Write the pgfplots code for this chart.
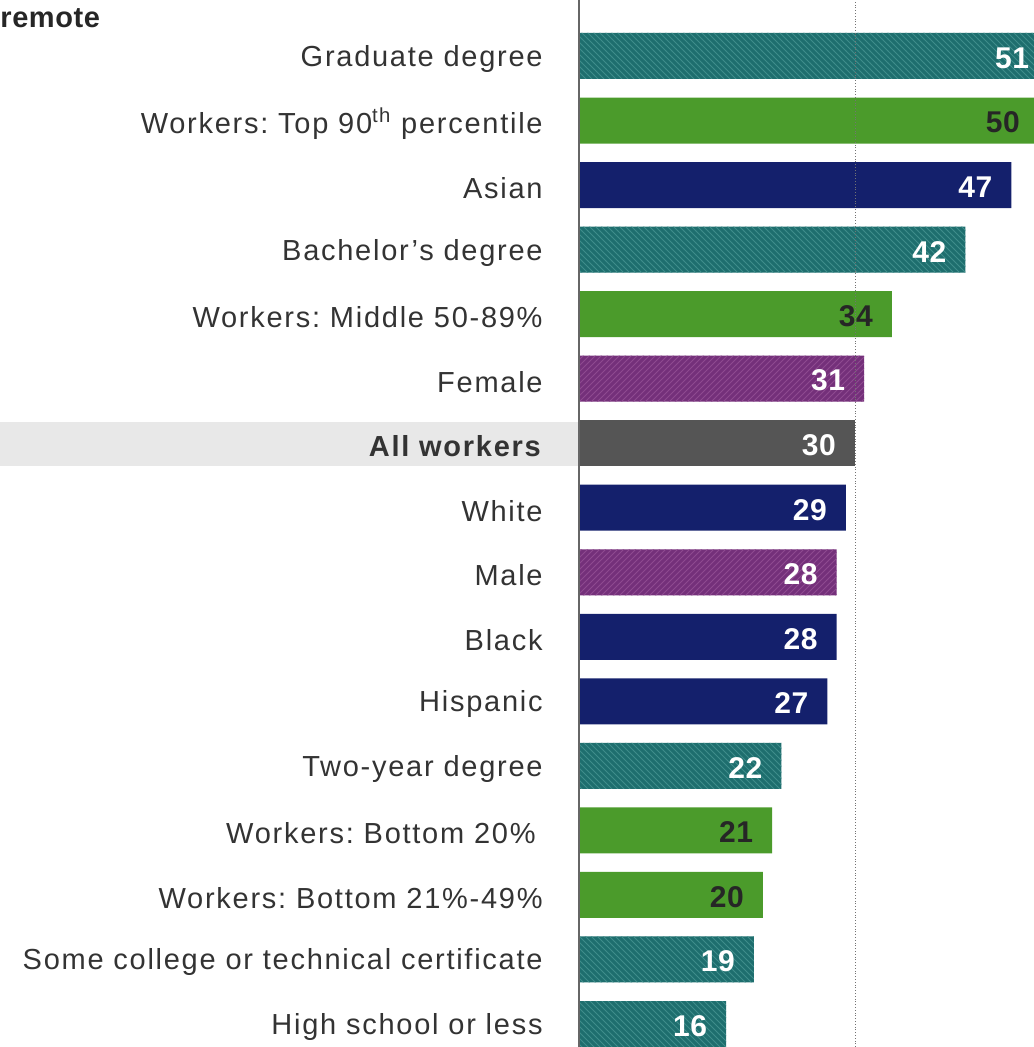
\documentclass[border=0pt]{standalone}
\usepackage{pgfplots}
\pgfplotsset{compat=1.18}
\usepackage{fontspec}
\setmainfont[LetterSpace=6]{Liberation Sans}
\newfontfamily\numfont[LetterSpace=2]{Liberation Sans}
\usetikzlibrary{patterns}
\definecolor{teal1}{HTML}{1E6E6E}
\definecolor{teal2}{HTML}{3F8D8B}
\definecolor{grn}{HTML}{4B9B2B}
\definecolor{navy}{HTML}{14206C}
\definecolor{purp}{HTML}{74307A}
\definecolor{purp2}{HTML}{8E4A90}
\definecolor{allg}{HTML}{555555}
\definecolor{lbl}{HTML}{333333}
\begin{document}
\frenchspacing
\begin{tikzpicture}
\fill[black!9] (-289.5pt,290.5pt) rectangle (0pt,312.5pt);
\node[anchor=west, font=\numfont\bfseries\fontsize{14.5}{16}\selectfont, text=black!85, inner sep=0pt] at (-289.5pt, 514.5pt) {remote};
\begin{axis}[
 at={(0,0)}, anchor=south west,
 scale only axis, width=227pt, height=523.5pt,
 xmin=0, xmax=49.35, ymin=-0.356, ymax=15.868,
 xbar, bar width=23pt, bar shift=0pt,
 axis line style={draw=none}, xtick=\empty,
 ytick={0,...,15}, major tick length=0pt,
 yticklabels={High school or less, Some college or technical certificate, Workers: Bottom 21\%-49\%, Workers: Bottom 20\%\kern3.5pt\relax, Two-year degree, Hispanic, Black, Male, White, \textbf{All workers}, Female, Workers: Middle 50-89\%, Bachelor's degree, Asian, Workers: Top 90\textsuperscript{th} percentile, Graduate degree},
 yticklabel style={font=\fontsize{14.5}{16}\selectfont, text=lbl, inner sep=0pt, xshift=-18pt, yshift=-1.5pt},
 clip=false,
 /pgf/number format/assume math mode=true,
 nodes near coords, point meta=x,
 nodes near coords style={anchor=east, xshift=-6pt, yshift=-1pt, font=\numfont\bfseries\fontsize{15}{16}\selectfont, text=white},
]
\addplot[fill=teal1, draw=none, postaction={pattern=north west lines, pattern color=teal2}] coordinates {(51,15) (42,12) (22,4) (19,1) (16,0)};
\addplot[fill=grn, draw=none, nodes near coords style={text=black!85}] coordinates {(50,14) (34,11) (21,3) (20,2)};
\addplot[fill=navy, draw=none] coordinates {(47,13) (29,8) (28,6) (27,5)};
\addplot[fill=purp, draw=none, postaction={pattern=north east lines, pattern color=purp2}] coordinates {(31,10) (28,7)};
\addplot[fill=allg, draw=none] coordinates {(30,9)};
\draw[black!55, densely dotted] (axis cs:30,-0.356) -- (axis cs:30,15.868);
\draw[black!60, line width=0.8pt] (axis cs:0,-0.356) -- (axis cs:0,15.868);
\end{axis}
\pgfresetboundingbox
\path[use as bounding box] (-289.5pt,0) rectangle (227pt,523.5pt);
\end{tikzpicture}
\end{document}
